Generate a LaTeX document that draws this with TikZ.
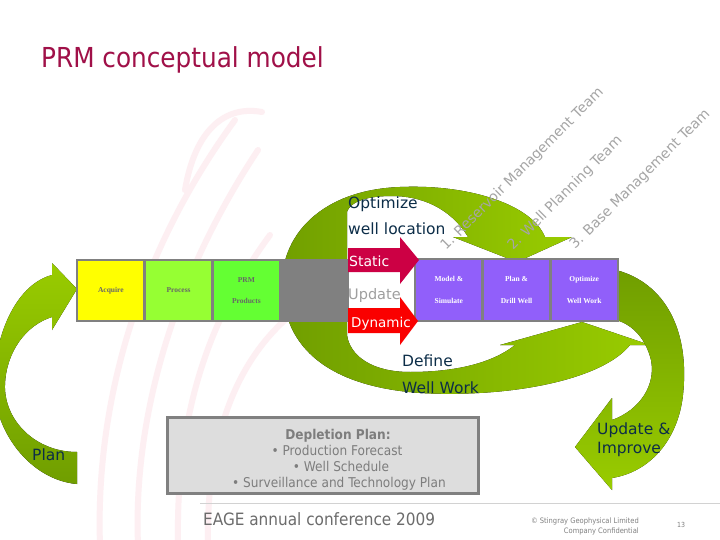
\documentclass[tikz,border=0pt]{standalone}
\usepackage{fontspec}
\setmainfont{DejaVu Sans}
\newfontfamily\condfont{DejaVu Sans Condensed}
\newfontfamily\boxserif{Liberation Serif}
\definecolor{gdark}{RGB}{112,158,0}
\definecolor{glight}{RGB}{153,204,0}
\definecolor{titlered}{RGB}{160,16,72}
\definecolor{navy}{RGB}{12,45,72}
\definecolor{crim}{RGB}{204,0,68}
\definecolor{redarr}{RGB}{250,0,0}
\definecolor{purp}{RGB}{145,95,250}
\definecolor{boxgray}{RGB}{128,128,128}
\definecolor{depfill}{RGB}{221,221,221}
\definecolor{deptext}{RGB}{125,125,125}
\definecolor{teamgray}{RGB}{165,165,165}
\definecolor{pinkbg}{RGB}{253,239,242}
\definecolor{yel}{RGB}{255,255,0}
\definecolor{lgreenA}{RGB}{150,255,51}
\definecolor{lgreenB}{RGB}{100,255,51}
\begin{document}
\begin{tikzpicture}[x=1pt,y=-1pt,
  lbox/.style={draw=boxgray, line width=2.5pt, minimum width=67.75pt, minimum height=61pt,
    inner sep=0pt, align=center, text=boxgray!80!black, font=\boxserif\bfseries\fontsize{7.5}{21}\selectfont},
  pbox/.style={draw=boxgray, line width=2.5pt, fill=purp, minimum width=67.7pt, minimum height=62pt,
    inner sep=0pt, align=center, text=white, font=\boxserif\bfseries\fontsize{7.5}{22}\selectfont},
  lab/.style={inner sep=0pt, anchor=base west, text=navy, font=\fontsize{15.5}{18}\selectfont},
  team/.style={inner sep=0pt, anchor=base west, rotate=45, text=teamgray, font=\fontsize{14}{16}\selectfont},
  dep/.style={inner sep=0pt, anchor=base, text=deptext, font=\condfont\fontsize{13.5}{16}\selectfont},
  bgarc/.style={draw=pinkbg, line width=6pt, line cap=round}
]
\useasboundingbox (0,0) rectangle (720,540);
\fill[white] (0,0) rectangle (720,540);

% faint background swirls
\draw[bgarc] (100,545) .. controls (95,400) and (140,250) .. (235,120);
\draw[bgarc] (138,545) .. controls (133,420) and (172,280) .. (258,150);
\draw[bgarc] (178,545) .. controls (176,430) and (200,330) .. (270,235);
\draw[bgarc] (208,545) .. controls (206,450) and (230,370) .. (285,320);
\draw[bgarc] (185,190) .. controls (195,130) and (225,105) .. (262,112);

% footer line
\draw[gray!35, line width=0.8pt] (200,503) -- (720,503);

% ring arrow A (top, clockwise to Plan & Drill Well)
\fill[left color=gdark, right color=glight]
  (283,300) .. controls (274,240) and (318,190) .. (400,187)
  .. controls (470,184) and (532,205) .. (545,237)
  -- (572,237) -- (517,262) -- (453,237) -- (468,237)
  .. controls (450,207) and (420,196) .. (392,196)
  .. controls (366,196) and (350,202) .. (347,212)
  -- (347,300) -- cycle;

% ring arrow B (bottom, to Optimize Well Work)
\fill[left color=gdark, right color=glight]
  (283,280) .. controls (280,342) and (322,386) .. (420,393)
  .. controls (510,398) and (602,380) .. (630,345)
  -- (650,345) -- (582,322) -- (500,345) -- (515,345)
  .. controls (490,365) and (450,372) .. (410,372)
  .. controls (372,372) and (350,356) .. (347,335)
  -- (347,280) -- cycle;

% Update & Improve arrow
\fill[top color=gdark, bottom color=glight]
  (616,270) .. controls (665,283) and (690,330) .. (683,395)
  .. controls (678,440) and (650,472) .. (612,478)
  -- (612,490) -- (575,447) -- (612,398) -- (612,420)
  .. controls (640,410) and (656,385) .. (651,360)
  .. controls (646,340) and (634,325) .. (616,320) -- cycle;

% Plan arrow
\fill[top color=glight, bottom color=gdark]
  (77,484) .. controls (30,480) and (-8,430) .. (-6,380)
  .. controls (-4,330) and (18,284) .. (52,275)
  -- (52,263) -- (77,289) -- (52,330) -- (52,317)
  .. controls (26,325) and (6,352) .. (5,385)
  .. controls (4,420) and (35,452) .. (77,452) -- cycle;

% left block
\node[lbox, fill=yel] (acq) at (110.9,290.5) {Acquire};
\node[lbox, fill=lgreenA] (proc) at (178.6,290.5) {Process};
\node[lbox, fill=lgreenB] (prm) at (246.4,290.5) {PRM\\Products};
\node[lbox, fill=boxgray] (grey) at (314.1,290.5) {};

% purple block
\node[pbox] (model) at (448.8,290) {Model \&\\Simulate};
\node[pbox] (drill) at (516.5,290) {Plan \&\\Drill Well};
\node[pbox] (optw) at (584.2,290) {Optimize\\Well Work};

% static / dynamic arrows
\fill[crim] (348,248) -- (400,248) -- (400,237) -- (419,260) -- (400,284) -- (400,272) -- (348,272) -- cycle;
\fill[redarr] (348,308) -- (400,308) -- (400,297) -- (418,321) -- (400,345) -- (400,333) -- (348,333) -- cycle;
\node[inner sep=0pt, anchor=base west, text=white, font=\fontsize{14}{16}\selectfont] (static) at (349,266) {Static};
\node[inner sep=0pt, anchor=base west, text=gray!75, font=\fontsize{14.5}{16}\selectfont] (update) at (348,299) {Update};
\node[inner sep=0pt, anchor=base west, text=white, font=\fontsize{13.5}{16}\selectfont] (dynamic) at (351,327) {Dynamic};

% title
\node[inner sep=0pt, anchor=base west, text=titlered, font=\condfont\fontsize{27.5}{30}\selectfont] (title) at (41,68) {PRM conceptual model};

% labels
\node[lab] (opt1) at (348,208) {Optimize};
\node[lab] (opt2) at (348,235) {well location};
\node[lab] (def1) at (402,366) {Define};
\node[lab] (def2) at (402,393) {Well Work};
\node[lab] (plan) at (32,460) {Plan};
\node[lab] (upd1) at (597,434) {Update \&};
\node[lab] (upd2) at (597,453) {Improve};

% team labels
\node[team] (t1) at (446,251) {1. Reservoir Management Team};
\node[team] (t2) at (513,251) {2. Well Planning Team};
\node[team] (t3) at (575,250) {3. Base Management Team};

% depletion plan
\node[draw=boxgray, line width=3pt, fill=depfill, minimum width=311pt, minimum height=76pt, inner sep=0pt] (depl) at (322.5,455) {};
\node[dep, font=\condfont\bfseries\fontsize{13.5}{16}\selectfont] (d0) at (338,439) {Depletion Plan:};
\node[dep] (d1) at (337,455) {• Production Forecast};
\node[dep] (d2) at (341,471) {• Well Schedule};
\node[dep] (d3) at (339,487) {• Surveillance and Technology Plan};

% footer
\node[inner sep=0pt, anchor=base west, text=gray!85!black, font=\condfont\fontsize{17}{20}\selectfont] (eage) at (203,525) {EAGE annual conference 2009};
\node[inner sep=0pt, anchor=base east, text=gray, font=\condfont\fontsize{7.5}{9}\selectfont] (copy1) at (639,523) {© Stingray Geophysical Limited};
\node[inner sep=0pt, anchor=base east, text=gray, font=\condfont\fontsize{7.5}{9}\selectfont] (copy2) at (639,533) {Company Confidential};
\node[inner sep=0pt, anchor=base west, text=gray, font=\condfont\fontsize{7}{9}\selectfont] (pg) at (677,527) {13};
\end{tikzpicture}
\end{document}
